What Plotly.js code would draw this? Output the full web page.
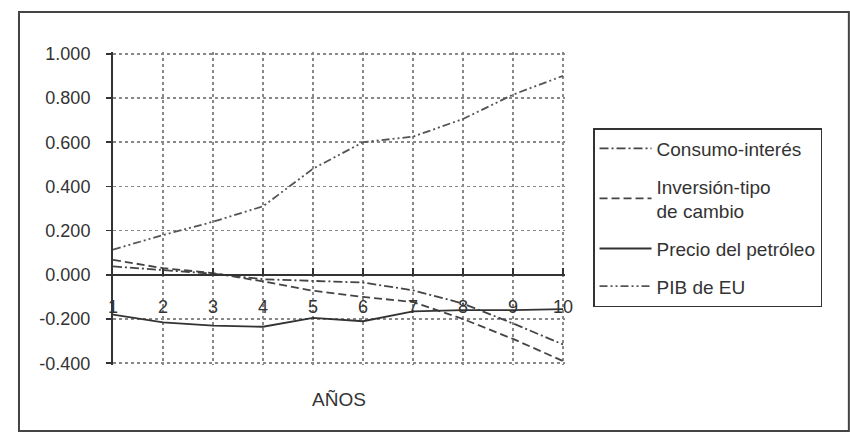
<!DOCTYPE html>
<html>
<head>
<meta charset="utf-8">
<script src="https://cdn.plot.ly/plotly-3.0.1.min.js"></script>
<style>html,body{margin:0;padding:0;background:#fff;}#chart{width:850px;height:433px;}</style>
</head>
<body>
<div id="chart"></div>
<script>
const years = [1, 2, 3, 4, 5, 6, 7, 8, 9, 10];
const consumoInteres = [0.038, 0.023, 0.005, -0.02, -0.026, -0.035, -0.07, -0.13, -0.22, -0.315];
const inversionTipo = [0.068, 0.03, 0.008, -0.03, -0.072, -0.10, -0.123, -0.2, -0.29, -0.39];
const precioPetroleo = [-0.18, -0.215, -0.23, -0.235, -0.195, -0.21, -0.165, -0.16, -0.16, -0.155];
const pibEU = [0.114, 0.18, 0.24, 0.31, 0.48, 0.60, 0.625, 0.705, 0.815, 0.90];
const seriesNames = ['Consumo-interés', 'Inversión-tipo<br>de cambio', 'Precio del petróleo', 'PIB de EU'];
const yTickVals = [-0.4, -0.2, 0, 0.2, 0.4, 0.6, 0.8, 1.0];
const yTickText = ['-0.400', '-0.200', '0.000', '0.200', '0.400', '0.600', '0.800', '1.000'];
const xTitle = 'AÑOS';

const FONT = 'Liberation Sans, Arial, sans-serif';
const Y0 = -0.408, Y1 = 1.008;
const traces = [
  {x: years, y: consumoInteres, name: seriesNames[0], legendgroup: 'a', mode: 'lines',
   line: {color: '#444', width: 1.8, dash: '9px,3px,2px,3px'}},
  {x: years, y: inversionTipo, name: seriesNames[1], legendgroup: 'b', mode: 'lines',
   line: {color: '#444', width: 1.8, dash: '8px,4px'}},
  {x: years, y: precioPetroleo, name: seriesNames[2], legendgroup: 'c', mode: 'lines',
   line: {color: '#333', width: 1.8}},
  {x: years, y: pibEU, name: seriesNames[3], legendgroup: 'd', mode: 'lines',
   line: {color: '#555', width: 1.8, dash: '8px,3px,2px,3px,2px,3px'}}
];

const layout = {
  width: 850, height: 433,
  margin: {l: 113, r: 285, t: 52, b: 68},
  paper_bgcolor: '#fff', plot_bgcolor: '#fff',
  font: {family: FONT, color: '#333', size: 18},
  showlegend: true,
  legend: {
    x: 1.062, y: 0.757, xanchor: 'left', yanchor: 'top',
    bordercolor: '#333', borderwidth: 1.5, bgcolor: '#fff',
    font: {family: FONT, size: 19, color: '#333'},
    traceorder: 'grouped', tracegroupgap: 10, itemwidth: 52
  },
  xaxis: {
    range: [1, 10.04], tickvals: years, ticktext: years.map(String),
    anchor: 'free', position: (0 - Y0) / (Y1 - Y0),
    showline: true, linecolor: '#333', linewidth: 2,
    ticks: 'inside', ticklen: 6, tickcolor: '#333', tickwidth: 1.5,
    ticklabelstandoff: 16,
    showgrid: true, gridcolor: '#888', gridwidth: 1.5, griddash: 'dot',
    zeroline: false,
    tickfont: {family: FONT, size: 18, color: '#333'},
    title: {text: xTitle, standoff: 75, font: {family: FONT, size: 19, color: '#333'}}
  },
  yaxis: {
    range: [Y0, Y1], tickvals: yTickVals, ticktext: yTickText,
    showline: true, linecolor: '#333', linewidth: 2,
    ticks: 'outside', ticklen: 5, tickcolor: '#333', tickwidth: 1.5,
    ticklabelstandoff: 12,
    showgrid: true, gridcolor: '#888', gridwidth: 1.5, griddash: 'dot',
    zeroline: false,
    tickfont: {family: FONT, size: 18, color: '#333'}
  },
  shapes: [
    {type: 'rect', xref: 'paper', yref: 'paper', layer: 'below',
     x0: -0.208, x1: 1.628, y0: -0.211, y1: 1.128,
     line: {color: '#444', width: 2}}
  ]
};

Plotly.newPlot('chart', traces, layout, {staticPlot: true, displayModeBar: false});
</script>
</body>
</html>
